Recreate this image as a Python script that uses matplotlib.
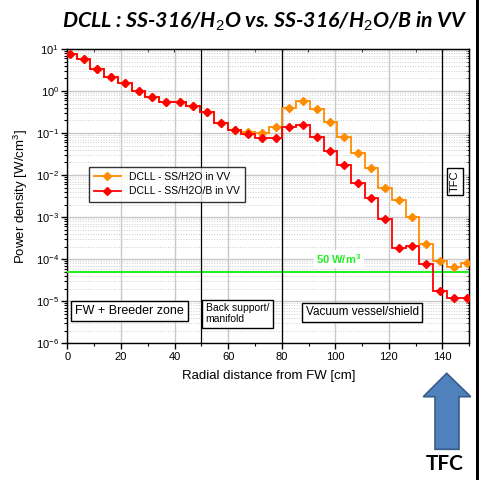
import numpy as np
import matplotlib
matplotlib.use("Agg")
import matplotlib.pyplot as plt
from matplotlib.lines import Line2D
from matplotlib.patches import Polygon, Rectangle
from matplotlib.ticker import LogLocator, MultipleLocator, NullFormatter

plt.rcParams['font.family'] = ['Liberation Sans', 'DejaVu Sans']
plt.rcParams['mathtext.fontset'] = 'custom'
plt.rcParams['mathtext.rm'] = 'Liberation Sans'
plt.rcParams['mathtext.it'] = 'Liberation Sans:italic'
plt.rcParams['mathtext.bf'] = 'Liberation Sans:bold'

# positions des points (centre des mailles) [cm]
x_cm = [1.0, 6.1, 11.2, 16.3, 21.5, 26.6, 31.7, 36.8, 41.9, 47.0,
        52.1, 57.3, 62.4, 67.5, 72.6, 77.7, 82.8, 87.9, 93.1, 98.2,
        103.3, 108.4, 113.5, 118.6, 123.7, 128.8, 134.0, 139.1, 144.2, 149.3]

# densite de puissance [W/cm3]
p_h2o = [7.6, 5.7, 3.3, 2.15, 1.53, 1.0, 0.72, 0.54, 0.535, 0.44,
         0.317, 0.171, 0.118, 0.108, 0.102, 0.142, 0.40, 0.58, 0.38, 0.187,
         0.082, 0.034, 0.0145, 0.0049, 0.0026, 0.00103, 2.3e-4, 9.1e-5, 6.5e-5, 8.3e-5]
p_h2o_b = [7.6, 5.7, 3.3, 2.15, 1.53, 1.0, 0.72, 0.54, 0.535, 0.44,
           0.317, 0.171, 0.118, 0.093, 0.075, 0.075, 0.142, 0.156, 0.082, 0.0375,
           0.0174, 0.0066, 0.0029, 9.0e-4, 1.8e-4, 2.06e-4, 7.6e-5, 1.75e-5, 1.17e-5, 1.21e-5]

labels = ['DCLL - SS/H2O in VV', 'DCLL - SS/H2O/B in VV']
colors = ['#FF8C00', '#FF0000']
limit = 5e-5      # 50 W/m3
zone_lines = [50, 80, 140]

W, H = 479, 480
fig = plt.figure(figsize=(W / 100, H / 100), dpi=100)
ax = fig.add_axes([67.3 / W, 1 - 343.3 / H, 402 / W, 294.3 / H])

x = np.array(x_cm)
edges = np.concatenate([[0], (x[:-1] + x[1:]) / 2, [150]])

for vals, c in zip([p_h2o, p_h2o_b], colors):
    ax.stairs(vals, edges, baseline=None, color=c, lw=1.3, zorder=4)
    ax.plot(x, vals, ls='none', marker='D', ms=4.4, color=c, zorder=5)

ax.axhline(limit, color='#22EE22', lw=1.5, zorder=3)
for xv in zone_lines:
    ax.axvline(xv, color='black', lw=0.9, zorder=3)

ax.set_yscale('log')
ax.set_xlim(0, 150)
ax.set_ylim(1e-6, 10)
ax.xaxis.set_major_locator(MultipleLocator(20))
ax.xaxis.set_minor_locator(MultipleLocator(10))
ax.yaxis.set_major_locator(LogLocator(base=10, numticks=20))
ax.yaxis.set_minor_locator(LogLocator(base=10, subs=np.arange(2, 10), numticks=20))
ax.yaxis.set_minor_formatter(NullFormatter())

ax.grid(True, which='major', color='#c8c8c8', lw=1.0, zorder=0)
ax.grid(True, which='minor', axis='y', color='#cccccc', lw=0.7, ls=':', zorder=0)
ax.tick_params(which='major', direction='out', length=4, width=1, labelsize=8, pad=2)
ax.tick_params(which='minor', direction='out', length=2.5, width=0.8)
for s in ax.spines.values():
    s.set_linewidth(1.0)

# petites graduations interieures en haut et a droite
top = ax.secondary_xaxis('top')
top.xaxis.set_major_locator(MultipleLocator(20))
top.xaxis.set_minor_locator(MultipleLocator(10))
top.tick_params(which='both', direction='in', labeltop=False, length=2.5)
right = ax.secondary_yaxis('right')
right.yaxis.set_major_locator(LogLocator(base=10, numticks=20))
right.yaxis.set_minor_locator(LogLocator(base=10, subs=np.arange(2, 10), numticks=20))
right.tick_params(which='both', direction='in', labelright=False, length=2.5)

ax.set_xlabel('Radial distance from FW [cm]', fontsize=9.5, labelpad=6)
ax.set_ylabel('Power density [W/cm$^3$]', fontsize=9.5, labelpad=4)

handles = [Line2D([0], [0], color=c, marker='D', ms=4.4, lw=1.3) for c in colors]
leg = ax.legend(handles, labels, loc='upper left', bbox_to_anchor=(0.04, 0.617),
                fontsize=7.5, frameon=True, fancybox=False, edgecolor='black',
                handlelength=2.6, borderpad=0.5, labelspacing=0.4)
leg.get_frame().set_linewidth(1.0)

box = dict(boxstyle='square,pad=0.3', fc='white', ec='black', lw=1.0)
ax.text(23.2, 5.9e-6, 'FW + Breeder zone', fontsize=9, ha='center', va='center',
        bbox=box, zorder=6)
ax.text(51.6, 5.1e-6, 'Back support/\nmanifold', fontsize=7.5, ha='left', va='center',
        bbox=dict(boxstyle='square,pad=0.35', fc='white', ec='black', lw=1.0),
        linespacing=1.1, zorder=6)
ax.text(110.1, 5.5e-6, 'Vacuum vessel/shield', fontsize=8.5, ha='center', va='center',
        bbox=box, zorder=6)
ax.text(101.4, 1.0e-4, '50 W/m$^\\mathbf{3}$', fontsize=8, fontweight='bold', color='#22EE22',
        ha='center', va='center', bbox=dict(boxstyle='square,pad=0.2', fc='white', ec='none'),
        zorder=6)
ax.text(144.6, 7.1e-3, 'TFC', fontsize=8, rotation=90, ha='center', va='center',
        bbox=dict(boxstyle='square,pad=0.25', fc='white', ec='black', lw=1.0), zorder=6)

fig.text(62 / W, 1 - 21 / H, 'DCLL : SS-316/H$_2$O vs. SS-316/H$_2$O/B in VV',
         fontsize=15.3, fontweight='bold', fontstyle='italic', family='Lato',
         ha='left', va='center')

# fleche TFC
arrow = [(446.7, 373.3), (470.7, 396.7), (459, 396.7), (459, 449.3),
         (435, 449.3), (435, 396.7), (423.3, 396.7)]
arrow = [(px / W, 1 - py / H) for px, py in arrow]
fig.patches.append(Polygon(arrow, closed=True, fc='#4F81BD', ec='#385D8A', lw=1.2,
                           transform=fig.transFigure))
fig.text(445 / W, 1 - 464 / H, 'TFC', fontsize=15, fontweight='bold', family='Lato',
         ha='center', va='center')

# bord noir a droite
fig.patches.append(Rectangle((476 / W, 0), 3 / W, 1, fc='black', ec='none',
                             transform=fig.transFigure))

fig.savefig('out.png', dpi=100)
